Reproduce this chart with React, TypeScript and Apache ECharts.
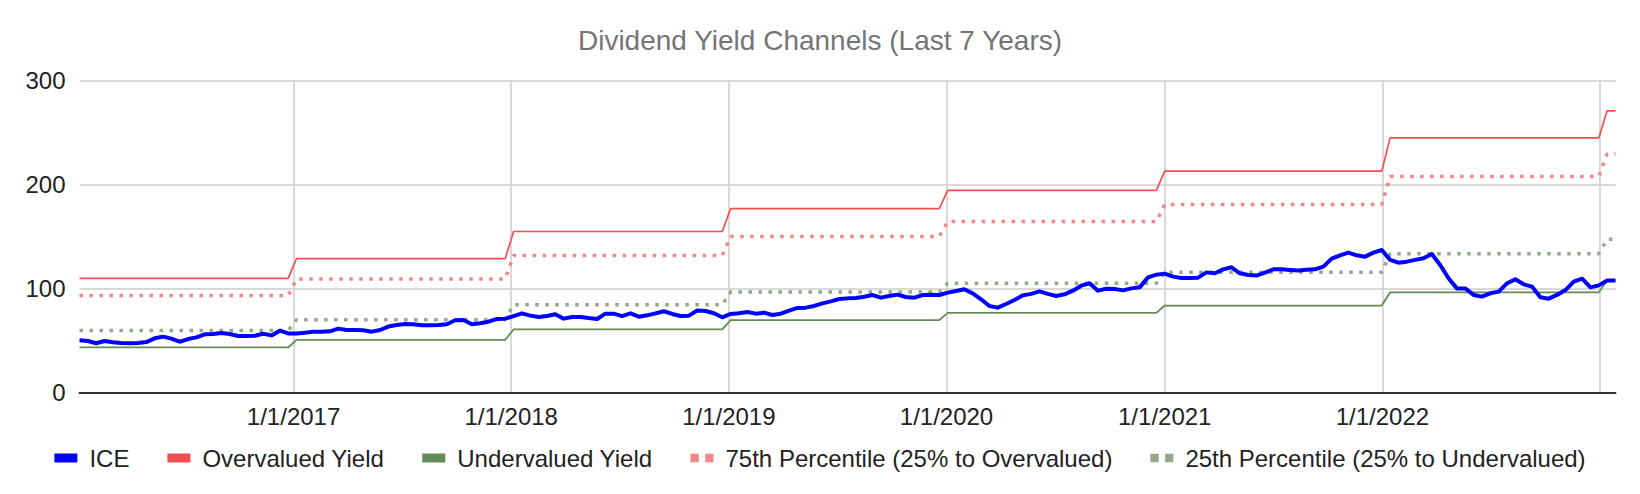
import React, { useEffect, useRef } from 'react';
import * as echarts from 'echarts';

// ICE dividend yield-based price series, biweekly points (Jan 8 2016 .. Jan 27 2023)
const iceValues = [
  50.4, 49.7, 47.5, 49.7, 48.5, 47.8, 47.5, 47.8, 48.7, 52.3,
  53.9, 52.0, 49.0, 51.6, 53.2, 56.1, 56.4, 57.4, 56.4, 54.5,
  54.5, 54.8, 56.7, 55.1, 59.6, 57.0, 57.0, 57.7, 58.7, 58.7,
  59.0, 61.6, 60.3, 60.3, 60.0, 58.7, 60.3, 63.6, 65.1, 66.0,
  65.8, 64.8, 64.8, 65.1, 65.8, 69.6, 69.9, 65.8, 66.7, 68.3,
  70.9, 71.2, 73.7, 76.3, 74.1, 72.8, 73.7, 75.4, 71.2, 72.8,
  72.8, 71.9, 70.9, 76.0, 76.0, 73.7, 76.3, 73.1, 74.4, 76.3,
  78.3, 75.7, 73.7, 74.1, 79.0, 78.6, 76.4, 72.5, 75.7, 76.4,
  77.6, 76.0, 77.0, 74.7, 76.0, 78.9, 81.5, 81.8, 83.4, 85.9,
  87.8, 90.1, 90.7, 91.0, 92.3, 93.9, 91.4, 93.0, 94.3, 92.0,
  91.4, 93.9, 94.3, 93.9, 96.2, 97.8, 99.4, 95.5, 89.8, 83.4,
  81.8, 85.3, 89.1, 93.6, 95.0, 97.5, 95.0, 93.0, 94.6, 98.1,
  102.9, 105.2, 98.1, 100.0, 99.7, 98.4, 100.3, 101.3, 110.9, 113.5,
  114.5, 111.6, 110.3, 110.3, 110.6, 115.7, 114.8, 118.6, 120.6, 114.8,
  113.2, 112.6, 115.4, 118.6, 118.6, 118.0, 117.4, 118.3, 118.6, 121.2,
  128.9, 132.1, 134.7, 132.1, 130.8, 134.7, 137.2, 127.7, 125.0, 126.0,
  127.7, 129.2, 133.4, 122.8, 110.0, 100.3, 100.3, 94.0, 92.4, 95.6,
  97.2, 105.2, 109.0, 104.2, 102.0, 91.7, 90.4, 94.0, 98.7, 106.8,
  109.6, 101.3, 103.2, 107.8, 107.8,
];

// Yearly channel levels (step values per calendar year)
const channelYears = [2016, 2017, 2018, 2019, 2020, 2021, 2022, 2023];
const overvaluedYield = [110, 129, 155, 177, 194.5, 213, 245, 271];
const undervaluedYield = [43.5, 50.8, 60.8, 69.8, 76.7, 83.8, 96.5, 107.8];
const pct75Yield = [93.4, 109.4, 132, 150.3, 164.5, 181, 207.8, 229.5];
const pct25Yield = [59.7, 70.2, 84.6, 96.8, 105.2, 115.8, 133.7, 147.6];

const gridYears = [2017, 2018, 2019, 2020, 2021, 2022, 2023];
const xTickLabels = ['1/1/2017', '1/1/2018', '1/1/2019', '1/1/2020', '1/1/2021', '1/1/2022'];
const yTicks = [0, 100, 200, 300];

const seriesNames = [
  'ICE',
  'Overvalued Yield',
  'Undervalued Yield',
  '75th Percentile (25% to Overvalued)',
  '25th Percentile (25% to Undervalued)',
];

const DAY = 24 * 3600 * 1000;
const startDate = Date.UTC(2016, 0, 8);
const dates = iceValues.map((_, i) => startDate + i * 14 * DAY);

const FONT = '"Liberation Sans", Arial, Helvetica, sans-serif';

const channelSeries = (levels: number[]) =>
  dates.map((d) => {
    const y = new Date(d).getUTCFullYear();
    return [d, levels[channelYears.indexOf(y)]];
  });

const gridTickValues = gridYears.map((y) => Date.UTC(y, 0, 1));
const labelTickValues = gridTickValues.slice(0, xTickLabels.length);

const COLORS = {
  ice: '#0000ff',
  over: '#f25050',
  under: '#648a58',
  p75: '#f38686',
  p25: '#93a88b',
};

const dotIcon = 'path://M0,0h9v9h-9z M16,0h9v9h-9z';

const option: any = {
  animation: false,
  backgroundColor: '#ffffff',
  title: {
    text: 'Dividend Yield Channels (Last 7 Years)',
    left: 'center',
    top: 21,
    textStyle: { fontFamily: FONT, fontSize: 28, fontWeight: 'normal', color: '#757575' },
  },
  legend: {
    left: 'center',
    top: 441,
    itemWidth: 23,
    itemHeight: 9,
    itemGap: 38,
    textStyle: { fontFamily: FONT, fontSize: 24, color: '#222222', padding: [0, 0, 0, 7] },
    itemStyle: { borderWidth: 0 },
    data: [
      { name: seriesNames[0], icon: 'rect', itemStyle: { color: COLORS.ice } },
      { name: seriesNames[1], icon: 'rect', itemStyle: { color: COLORS.over } },
      { name: seriesNames[2], icon: 'rect', itemStyle: { color: COLORS.under } },
      { name: seriesNames[3], icon: dotIcon, itemStyle: { color: COLORS.p75 } },
      { name: seriesNames[4], icon: dotIcon, itemStyle: { color: COLORS.p25 } },
    ],
  },
  grid: { left: 79.5, right: 24.5, top: 80.7, bottom: 101.3, containLabel: false },
  xAxis: {
    type: 'value',
    min: dates[0],
    max: dates[dates.length - 1],
    axisLine: { show: true, lineStyle: { color: '#333333', width: 2 } },
    axisTick: { show: false, customValues: gridTickValues },
    axisLabel: {
      customValues: labelTickValues,
      fontFamily: FONT,
      fontSize: 24,
      color: '#222222',
      margin: 12,
      formatter: (v: number) => {
        const idx = labelTickValues.findIndex((t) => Math.abs(t - v) < DAY);
        return idx >= 0 ? xTickLabels[idx] : '';
      },
    },
    splitLine: { show: true, lineStyle: { color: '#cccccc', width: 1.5 } },
  },
  yAxis: {
    type: 'value',
    min: yTicks[0],
    max: yTicks[yTicks.length - 1],
    interval: 100,
    axisLine: { show: false },
    axisTick: { show: false },
    axisLabel: { fontFamily: FONT, fontSize: 24, color: '#222222', margin: 14 },
    splitLine: { show: true, lineStyle: { color: '#cccccc', width: 1.5 } },
  },
  series: [
    {
      name: seriesNames[3],
      type: 'line',
      symbol: 'none',
      z: 2,
      itemStyle: { color: COLORS.p75 },
      lineStyle: { color: COLORS.p75, width: 3.5, type: [3.5, 6.5], cap: 'butt' },
      data: channelSeries(pct75Yield),
    },
    {
      name: seriesNames[4],
      type: 'line',
      symbol: 'none',
      z: 2,
      itemStyle: { color: COLORS.p25 },
      lineStyle: { color: COLORS.p25, width: 3.5, type: [3.5, 6.5], cap: 'butt' },
      data: channelSeries(pct25Yield),
    },
    {
      name: seriesNames[1],
      type: 'line',
      symbol: 'none',
      z: 3,
      itemStyle: { color: COLORS.over },
      lineStyle: { color: COLORS.over, width: 1.7 },
      data: channelSeries(overvaluedYield),
    },
    {
      name: seriesNames[2],
      type: 'line',
      symbol: 'none',
      z: 3,
      itemStyle: { color: COLORS.under },
      lineStyle: { color: COLORS.under, width: 1.8 },
      data: channelSeries(undervaluedYield),
    },
    {
      name: seriesNames[0],
      type: 'line',
      symbol: 'none',
      z: 4,
      itemStyle: { color: COLORS.ice },
      lineStyle: { color: COLORS.ice, width: 4, join: 'round' },
      data: dates.map((d, i) => [d, iceValues[i]]),
    },
  ],
};

export default function App() {
  const ref = useRef<HTMLDivElement>(null);
  useEffect(() => {
    document.body.style.margin = '0';
    const chart = echarts.init(ref.current as HTMLDivElement, null, { renderer: 'svg' });
    chart.setOption(option);
    return () => chart.dispose();
  }, []);
  return <div ref={ref} style={{ width: 1640, height: 494 }} />;
}
